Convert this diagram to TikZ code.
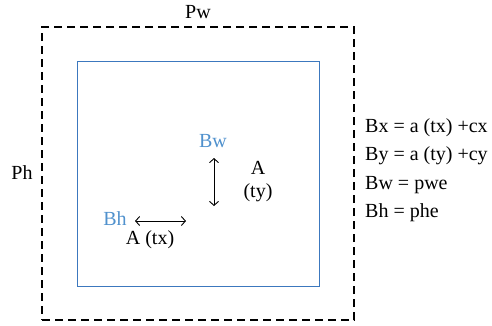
\documentclass[tikz,border=0pt]{standalone}
\usepackage{fontspec}
\setmainfont{Liberation Serif}
\usetikzlibrary{arrows.meta}
\definecolor{boxblue}{RGB}{60,120,190}
\definecolor{textblue}{RGB}{80,145,205}
\begin{document}
\begin{tikzpicture}[x=1pt, y=-1pt, >={Straight Barb[length=4pt, width=9pt]}, every node/.style={font=\fontsize{20}{23}\selectfont, inner sep=0pt}]
        \useasboundingbox (0,0) rectangle (492,325);
        \node[draw, dashed, dash pattern=on 8pt off 5pt, line width=1.2pt, minimum width=312pt, minimum height=293pt] (page) at (198,173.5) {};
        \node[draw=boxblue, line width=0.9pt, minimum width=242pt, minimum height=225pt] (box) at (198,173.5) {};
        \node (pw) at (198,12) {Pw};
        \node (ph) at (22,173) {Ph};
        \node[text=textblue] (bw) at (213,141) {Bw};
        \node[text=textblue] (bh) at (115,219) {Bh};
        \node[align=center] (aty) at (258,182) {A\\(ty)};
        \node (atx) at (150,240) {A (tx)};
        \coordinate (vtop) at (214,158);
        \coordinate (vbot) at (214,206);
        \coordinate (hleft) at (135,221);
        \coordinate (hright) at (186,221);
        \draw[<->, line width=0.9pt] (vtop)--(vbot);
        \draw[<->, line width=0.9pt] (hleft)--(hright);
        \node[anchor=west] (bx) at (365,128) {Bx = a (tx) +cx};
        \node[anchor=west] (by) at (365,156) {By = a (ty) +cy};
        \node[anchor=west] (bweq) at (365,185) {Bw = pwe};
        \node[anchor=west] (bheq) at (365,213) {Bh = phe};
    \end{tikzpicture}
\end{document}
